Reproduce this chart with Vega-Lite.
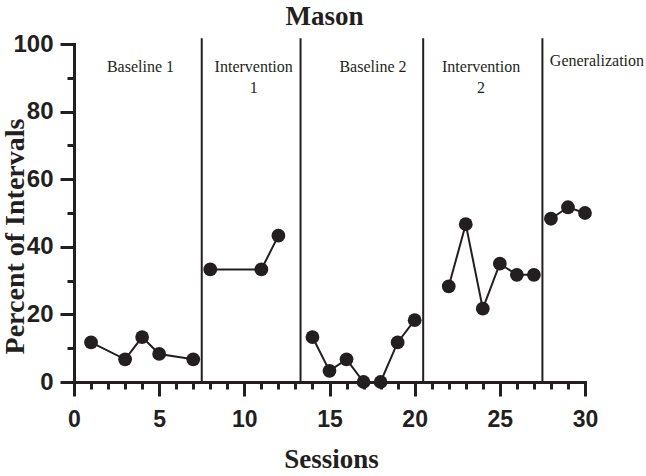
{
  "$schema": "https://vega.github.io/schema/vega-lite/v6.json",
  "width": 511,
  "height": 338,
  "autosize": {"type": "none"},
  "padding": {"left": 74, "top": 44, "right": 61, "bottom": 94},
  "title": {
    "text": "Mason",
    "font": "Liberation Serif",
    "fontSize": 27,
    "fontWeight": "bold",
    "color": "#231f20",
    "anchor": "middle",
    "baseline": "alphabetic",
    "offset": 0,
    "dx": -5,
    "dy": 20
  },
  "config": {"view": {"stroke": null}},
  "datasets": {
    "pts": [
      {"session": 1, "pct": 11.7, "phase": "Baseline 1"},
      {"session": 3, "pct": 6.7, "phase": "Baseline 1"},
      {"session": 4, "pct": 13.3, "phase": "Baseline 1"},
      {"session": 5, "pct": 8.3, "phase": "Baseline 1"},
      {"session": 7, "pct": 6.7, "phase": "Baseline 1"},
      {"session": 8, "pct": 33.3, "phase": "Intervention 1"},
      {"session": 11, "pct": 33.3, "phase": "Intervention 1"},
      {"session": 12, "pct": 43.3, "phase": "Intervention 1"},
      {"session": 14, "pct": 13.3, "phase": "Baseline 2"},
      {"session": 15, "pct": 3.3, "phase": "Baseline 2"},
      {"session": 16, "pct": 6.7, "phase": "Baseline 2"},
      {"session": 17, "pct": 0, "phase": "Baseline 2"},
      {"session": 18, "pct": 0, "phase": "Baseline 2"},
      {"session": 19, "pct": 11.7, "phase": "Baseline 2"},
      {"session": 20, "pct": 18.3, "phase": "Baseline 2"},
      {"session": 22, "pct": 28.3, "phase": "Intervention 2"},
      {"session": 23, "pct": 46.7, "phase": "Intervention 2"},
      {"session": 24, "pct": 21.7, "phase": "Intervention 2"},
      {"session": 25, "pct": 35, "phase": "Intervention 2"},
      {"session": 26, "pct": 31.7, "phase": "Intervention 2"},
      {"session": 27, "pct": 31.7, "phase": "Intervention 2"},
      {"session": 28, "pct": 48.3, "phase": "Generalization"},
      {"session": 29, "pct": 51.7, "phase": "Generalization"},
      {"session": 30, "pct": 50, "phase": "Generalization"}
    ],
    "lines": [
      {"session": 7.5, "pct": 0, "top": 101.7},
      {"session": 13.3, "pct": 0, "top": 101.7},
      {"session": 20.5, "pct": 0, "top": 101.7},
      {"session": 27.5, "pct": 0, "top": 101.7}
    ],
    "labels": [
      {"session": 3.9, "pct": 91.8, "label": "Baseline 1"},
      {"session": 10.55, "pct": 91.8, "label": "Intervention\n1"},
      {"session": 17.55, "pct": 91.8, "label": "Baseline 2"},
      {"session": 23.9, "pct": 91.8, "label": "Intervention\n2"},
      {"session": 30.7, "pct": 93.4, "label": "Generalization"}
    ]
  },
  "encoding": {
    "x": {
      "field": "session", "type": "quantitative",
      "scale": {"domain": [0, 30], "nice": false, "zero": false},
      "axis": {
        "title": "Sessions",
        "titleFont": "Liberation Serif", "titleFontSize": 27, "titleFontWeight": "bold", "titleColor": "#231f20",
        "titleX": 257, "titleY": 85, "titleBaseline": "alphabetic", "titleAlign": "center", "titleAnchor": null,
        "values": [0,1,2,3,4,5,6,7,8,9,10,11,12,13,14,15,16,17,18,19,20,21,22,23,24,25,26,27,28,29,30],
        "labelExpr": "datum.value % 5 === 0 ? datum.label : ''",
        "labelFont": "Liberation Sans", "labelFontSize": 23, "labelFontWeight": "bold", "labelColor": "#231f20",
        "labelPadding": 12, "labelFlush": false, "labelOverlap": false,
        "tickSize": {"condition": {"test": "datum.value % 5 === 0", "value": 14}, "value": 7},
        "tickWidth": 3, "tickColor": "#231f20",
        "domainWidth": 3, "domainColor": "#231f20", "domainCap": "square",
        "grid": false
      }
    },
    "y": {
      "field": "pct", "type": "quantitative",
      "scale": {"domain": [0, 100], "nice": false},
      "axis": {
        "title": "Percent of Intervals",
        "titleFont": "Liberation Serif", "titleFontSize": 28, "titleFontWeight": "bold", "titleColor": "#231f20",
        "titleX": -51, "titleY": 192, "titleAngle": 270, "titleAlign": "center", "titleBaseline": "alphabetic", "titleAnchor": null,
        "values": [0,10,20,30,40,50,60,70,80,90,100],
        "labelExpr": "datum.value % 20 === 0 ? datum.label : ''",
        "labelFont": "Liberation Sans", "labelFontSize": 24, "labelFontWeight": "bold", "labelColor": "#231f20",
        "labelPadding": 7, "labelFlush": false, "labelOverlap": false,
        "tickSize": {"condition": {"test": "datum.value % 20 === 0", "value": 14}, "value": 7},
        "tickWidth": 3, "tickColor": "#231f20",
        "domainWidth": 3, "domainColor": "#231f20", "domainCap": "square",
        "grid": false
      }
    }
  },
  "layer": [
    {
      "data": {"name": "lines"},
      "mark": {"type": "rule", "color": "#231f20", "strokeWidth": 2},
      "encoding": {
        "y2": {"field": "top"}
      }
    },
    {
      "data": {"name": "pts"},
      "mark": {"type": "line", "color": "#231f20", "strokeWidth": 2},
      "encoding": {
        "detail": {"field": "phase"}
      }
    },
    {
      "data": {"name": "pts"},
      "mark": {"type": "point", "filled": true, "opacity": 1, "color": "#231f20", "size": 190, "shape": "circle"}
    },
    {
      "data": {"name": "labels"},
      "mark": {"type": "text", "font": "Liberation Serif", "fontSize": 16, "color": "#231f20", "align": "center", "baseline": "alphabetic", "lineBreak": "\n", "lineHeight": 21},
      "encoding": {
        "text": {"field": "label"}
      }
    }
  ]
}
